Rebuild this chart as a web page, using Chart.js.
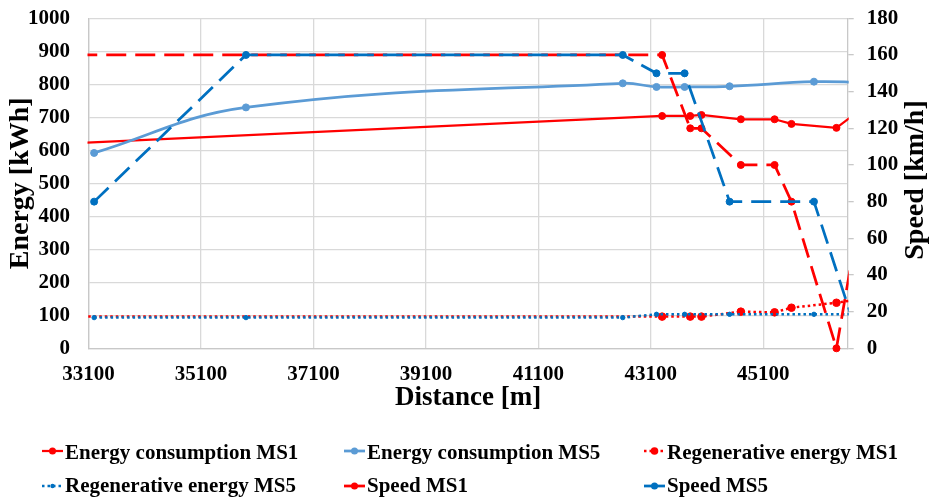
<!DOCTYPE html>
<html><head><meta charset="utf-8">
<script src="https://cdn.jsdelivr.net/npm/chart.js@4.4.1/dist/chart.umd.min.js"></script>
<style>html,body{margin:0;padding:0;background:#fff;} #wrap{width:931px;height:500px;position:relative;}</style>
</head><body><div id="wrap"><canvas id="c" width="931" height="500"></canvas></div>
<script>
// ---- tick labels ----
const xTickValues = [33100, 35100, 37100, 39100, 41100, 43100, 45100];
const energyTickValues = [0, 100, 200, 300, 400, 500, 600, 700, 800, 900, 1000];
const speedTickValues = [0, 20, 40, 60, 80, 100, 120, 140, 160, 180];

// ---- MS1 series (distance in m) ----
const distMS1   = [32900, 43300, 43800, 44000, 44700, 45300, 45600, 46400, 46850];
const energyMS1 = [622, 704, 704, 707, 694, 694, 680, 668, 726];
const regenMS1  = [96, 96, 96, 96, 111, 109, 123, 138, 150];
const speedMS1  = [160, 160, 120, 120, 100, 100, 80, 0, 80];

// ---- MS5 series ----
const distMS5   = [33200, 35900, 42600, 43200, 43700, 44500, 46000, 46850];
const energyMS5 = [592, 730, 803, 792, 792, 794, 808, 806];
const regenMS5  = [93, 93, 93, 103, 103, 103, 103, 103];
const speedMS5  = [80, 160, 160, 150, 150, 80, 80, 0];

const seriesLabels = ['Energy consumption MS1', 'Energy consumption MS5', 'Regenerative energy MS1',
                      'Regenerative energy MS5', 'Speed MS1', 'Speed MS5'];
const xTitle = 'Distance [m]';
const yTitle = 'Energy [kWh]';
const y2Title = 'Speed [km/h]';

const X_MIN = 33100, X_MAX = 46600;
const RED = '#FF0000', LBLUE = '#5B9BD5', DBLUE = '#0070C0';
const FONT = '"Liberation Serif", "Times New Roman", serif';

function pts(xs, ys) { return xs.map((x, i) => ({x: x, y: ys[i]})); }
function radius(r) { return c => (c.raw && c.raw.x >= X_MIN && c.raw.x <= X_MAX) ? r : 0; }

const styles = [
  {color: RED,   width: 2.25, dash: [],      r: 3.5, axis: 'y',  tension: 0},
  {color: LBLUE, width: 2.75, dash: [],      r: 3.5, axis: 'y',  tension: 0.4},
  {color: RED,   width: 2.5,  dash: [2.5, 3], r: 3.8, axis: 'y',  tension: 0},
  {color: DBLUE, width: 2.5,  dash: [2.5, 3], r: 2.2, axis: 'y',  tension: 0},
  {color: RED,   width: 2.75, dash: [20, 9], r: 3.5, axis: 'y2', tension: 0},
  {color: DBLUE, width: 2.75, dash: [20, 9], r: 3.5, axis: 'y2', tension: 0}
];
const seriesData = [
  pts(distMS1, energyMS1), pts(distMS5, energyMS5), pts(distMS1, regenMS1),
  pts(distMS5, regenMS5), pts(distMS1, speedMS1), pts(distMS5, speedMS5)
];

const datasets = seriesData.map((d, i) => ({
  label: seriesLabels[i],
  data: d,
  yAxisID: styles[i].axis,
  borderColor: styles[i].color,
  backgroundColor: styles[i].color,
  borderWidth: styles[i].width,
  borderDash: styles[i].dash,
  tension: styles[i].tension,
  pointRadius: radius(styles[i].r),
  pointBackgroundColor: styles[i].color,
  pointBorderColor: styles[i].color,
  pointBorderWidth: 1,
  fill: false,
  order: 5 - i,
  clip: {left: 1, right: 1, top: 6, bottom: 6}
}));

const tickFont = {family: FONT, size: 21, weight: 'bold'};
const GRID = '#D9D9D9', AXIS = '#C8C8C8';

const extras = {
  id: 'extras',
  afterDraw(chart) {
    const ctx = chart.ctx;
    // right axis title (reads bottom-to-top)
    ctx.save();
    ctx.font = 'bold 28px ' + FONT;
    ctx.fillStyle = '#000';
    ctx.textAlign = 'center';
    ctx.textBaseline = 'middle';
    ctx.translate(chart.scales.y2.right - 15, 180);
    ctx.rotate(-Math.PI / 2);
    ctx.fillText(y2Title, 0, 0);
    ctx.restore();
    // legend
    const cols = [42, 344, 644];
    const rowsY = [451, 486];
    const rowsBase = [459, 492];
    chart.data.datasets.forEach((ds, i) => {
      const col = i % 3, row = Math.floor(i / 3);
      const x0 = cols[col], yc = rowsY[row];
      const st = styles[i];
      ctx.save();
      ctx.strokeStyle = st.color;
      ctx.lineWidth = st.width;
      ctx.setLineDash(st.dash.length && st.dash[0] < 5 ? st.dash : []);
      ctx.beginPath(); ctx.moveTo(x0, yc); ctx.lineTo(x0 + 21, yc); ctx.stroke();
      ctx.setLineDash([]);
      ctx.fillStyle = st.color;
      ctx.beginPath(); ctx.arc(x0 + 10.5, yc, st.r, 0, 2 * Math.PI); ctx.fill();
      ctx.font = 'bold 21px ' + FONT;
      ctx.fillStyle = '#000';
      ctx.textAlign = 'left';
      ctx.textBaseline = 'alphabetic';
      ctx.fillText(ds.label, x0 + 23, rowsBase[row]);
      ctx.restore();
    });
  }
};

function fixVertical(width) {
  return s => { s.width = width; s.paddingTop = 0; s.paddingBottom = 0; };
}

new Chart(document.getElementById('c'), {
  type: 'line',
  data: {datasets: datasets},
  plugins: [extras],
  options: {
    responsive: false,
    animation: false,
    events: [],
    layout: {padding: {top: 18.3, bottom: 71.7, left: 0, right: 0}},
    plugins: {legend: {display: false}, tooltip: {enabled: false}},
    scales: {
      x: {
        type: 'linear', position: 'bottom', min: X_MIN, max: X_MAX,
        afterBuildTicks: s => { s.ticks = xTickValues.map(v => ({value: v})); },
        afterFit: s => { s.height = 80; },
        ticks: {font: tickFont, color: '#000', padding: 13.4, maxRotation: 0, autoSkip: false, callback: v => String(v)},
        grid: {color: GRID, lineWidth: 1.3, drawTicks: false},
        border: {color: AXIS, width: 1.3},
        title: {display: true, text: xTitle, color: '#000', font: {family: FONT, size: 27, weight: 'bold'}, padding: {top: 0, bottom: 13.6}}
      },
      y: {
        type: 'linear', position: 'left', min: 0, max: 1000,
        afterBuildTicks: s => { s.ticks = energyTickValues.map(v => ({value: v})); },
        afterFit: fixVertical(88.5),
        ticks: {font: tickFont, color: '#000', padding: 18.5, callback: v => String(v)},
        grid: {color: GRID, lineWidth: 1.3, drawTicks: false},
        border: {color: AXIS, width: 1.3},
        title: {display: true, text: yTitle, color: '#000', font: {family: FONT, size: 28, weight: 'bold'}, padding: {top: 4, bottom: 0}}
      },
      y2: {
        type: 'linear', position: 'right', min: 0, max: 180,
        afterBuildTicks: s => { s.ticks = speedTickValues.map(v => ({value: v})); },
        afterFit: fixVertical(83.3),
        ticks: {font: tickFont, color: '#000', padding: 13, callback: v => String(v)},
        grid: {drawOnChartArea: false, drawTicks: true, tickLength: 6, color: AXIS, lineWidth: 1.3},
        border: {color: AXIS, width: 1.3}
      }
    }
  }
});
</script>
</body></html>
